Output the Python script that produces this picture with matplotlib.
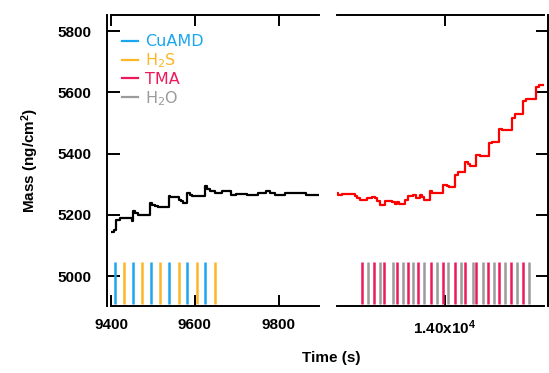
import matplotlib
matplotlib.use('Agg')
import matplotlib.pyplot as plt
from matplotlib.lines import Line2D

plt.rcParams['font.family'] = ['Liberation Sans', 'DejaVu Sans']
plt.rcParams['font.weight'] = 'bold'
plt.rcParams['mathtext.default'] = 'regular'

# --- data ---
# CuAMD / H2S deposition (left panel), mass in ng/cm2, time in s
cu_time = [9402, 9408, 9413, 9422, 9449, 9453, 9458, 9465, 9493, 9498, 9505, 9513,
           9538, 9540, 9562, 9566, 9572, 9582, 9588, 9594, 9624, 9628, 9636, 9648,
           9664, 9686, 9699, 9724, 9750, 9770, 9778, 9790, 9814, 9822, 9866, 9896]
cu_mass = [5145, 5150, 5184, 5189, 5180, 5211, 5205, 5200, 5238, 5232, 5228, 5225,
           5260, 5258, 5250, 5244, 5240, 5271, 5266, 5260, 5293, 5285, 5277, 5271,
           5277, 5266, 5268, 5266, 5271, 5279, 5271, 5266, 5271, 5271, 5266, 5266]

# TMA / H2O deposition (right panel)
al_time = [13742, 13746, 13754, 13786, 13790, 13798, 13808, 13814, 13825, 13833,
           13837, 13845, 13857, 13873, 13881, 13885, 13890, 13905, 13913, 13925,
           13932, 13940, 13946, 13950, 13964, 13970, 13996, 14004, 14010, 14024,
           14032, 14048, 14054, 14060, 14075, 14083, 14105, 14112, 14129, 14137,
           14159, 14166, 14186, 14192, 14217, 14223, 14238]
al_mass = [5271, 5266, 5267, 5262, 5255, 5247, 5250, 5256, 5258, 5254,
           5245, 5233, 5244, 5241, 5236, 5242, 5236, 5250, 5262, 5266,
           5255, 5266, 5258, 5247, 5277, 5271, 5298, 5294, 5291, 5331,
           5339, 5372, 5365, 5359, 5397, 5391, 5435, 5438, 5481, 5477,
           5517, 5528, 5572, 5577, 5619, 5623, 5623]

# precursor pulse times
cuamd_pulses = [9410, 9453, 9496, 9539, 9582, 9625]
h2s_pulses = [9432, 9475, 9518, 9561, 9604, 9648]
tma_pulses = [13803, 13832, 13855, 13885, 13913, 13936, 13966, 13995, 14024,
              14048, 14075, 14103, 14129, 14157, 14186]
h2o_pulses = [13817, 13845, 13875, 13899, 13925, 13951, 13980, 14008, 14038,
              14066, 14090, 14117, 14143, 14172, 14201]
pulse_lo, pulse_hi = 4910, 5045

y_ticks = [5000, 5200, 5400, 5600, 5800]
left_xticks = [9400, 9600, 9800]
right_xticks = [14000]
right_xlabels = ['1.40x10$^{4}$']

c_cu = '#1aa7ef'
c_h2s = '#fbb726'
c_tma = '#ec1a5a'
c_h2o = '#9b9b9b'

fig = plt.figure(figsize=(5.49, 3.73), dpi=100)
ax1 = fig.add_axes([0.2022, 0.1804, 0.3789, 0.7794])
ax2 = fig.add_axes([0.6133, 0.1804, 0.3776, 0.7794])

ax1.plot(cu_time, cu_mass, drawstyle='steps-post', color='black', lw=1.6)
ax1.vlines(cuamd_pulses, pulse_lo, pulse_hi, color=c_cu, lw=1.8)
ax1.vlines(h2s_pulses, pulse_lo, pulse_hi, color=c_h2s, lw=1.8)

ax2.plot(al_time, al_mass, drawstyle='steps-post', color='red', lw=1.6)
ax2.vlines(tma_pulses, pulse_lo, pulse_hi, color=c_tma, lw=1.8)
ax2.vlines(h2o_pulses, pulse_lo, pulse_hi, color=c_h2o, lw=1.8)

for ax in (ax1, ax2):
    ax.set_ylim(4903, 5853)
    ax.set_yticks(y_ticks)
    for s in ax.spines.values():
        s.set_linewidth(1.4)
    ax.tick_params(direction='in', width=1.4, length=8, top=True,
                   labelsize=11, pad=9)

ax1.set_xlim(9400, 9896)
ax1.set_xticks(left_xticks)
ax1.spines['right'].set_visible(False)
ax1.spines['left'].set_position(('outward', 3))
ax1.tick_params(axis='y', length=9, pad=11)

ax2.set_xlim(13742, 14236)
ax2.set_xticks(right_xticks)
ax2.set_xticklabels(right_xlabels)
ax2.spines['left'].set_visible(False)
ax2.spines['right'].set_position(('outward', 3))
ax2.tick_params(axis='y', left=False, right=True, labelleft=False, length=9)

ax1.set_ylabel('Mass (ng/cm$^{2}$)', fontsize=11, fontweight='bold', labelpad=12)
fig.text(0.603, 0.04, 'Time (s)', ha='center', va='center', fontsize=11,
         fontweight='bold')

handles = [Line2D([], [], color=c, lw=1.6) for c in (c_cu, c_h2s, c_tma, c_h2o)]
labels = ['CuAMD', 'H$_2$S', 'TMA', 'H$_2$O']
ax1.legend(handles, labels, loc='upper left', bbox_to_anchor=(0.02, 0.955),
           frameon=False, labelcolor='linecolor', handlelength=1.0,
           handletextpad=0.45, labelspacing=0.12, borderaxespad=0,
           prop={'family': 'DejaVu Sans', 'size': 11.5, 'weight': 'normal'})

fig.savefig('out.png', dpi=100)
